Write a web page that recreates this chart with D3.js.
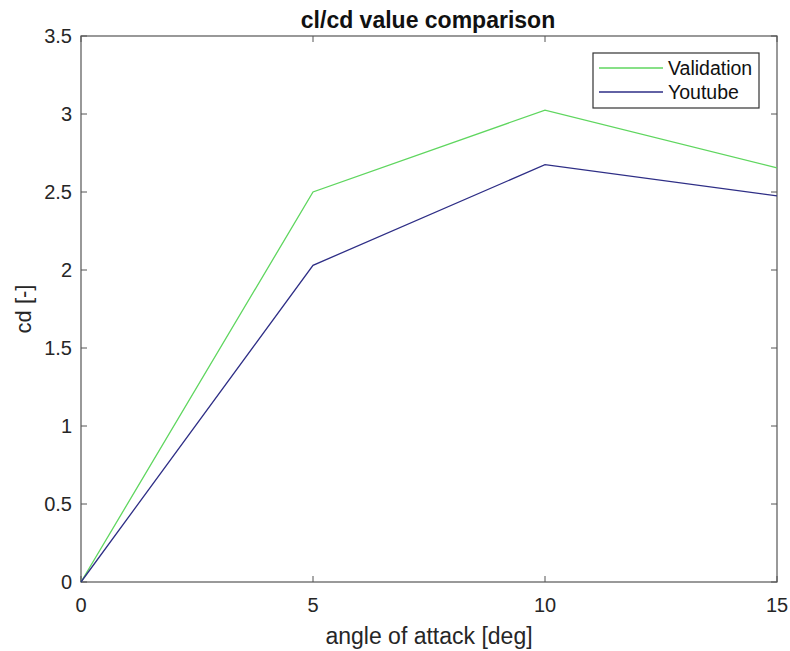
<!DOCTYPE html>
<html>
<head>
<meta charset="utf-8">
<script src="https://cdn.jsdelivr.net/npm/d3@7"></script>
<style>
  body { margin: 0; background: #fff; }
  text { font-family: "Liberation Sans", Arial, sans-serif; }
</style>
</head>
<body>
<svg id="chart" width="790" height="651"></svg>
<script>
// Angle of attack (deg) and lift/drag ratio per source
const angles = [0, 5, 10, 15];
const validation = [0, 2.50, 3.025, 2.655];
const youtube = [0, 2.03, 2.675, 2.475];
const xTicks = [0, 5, 10, 15];
const yTicks = [0, 0.5, 1, 1.5, 2, 2.5, 3, 3.5];
const seriesNames = ["Validation", "Youtube"];
const seriesColors = ["#5fd65f", "#2e2e86"];

const svg = d3.select("#chart");
const m = { left: 81, right: 777, top: 36, bottom: 582 };

const x = d3.scaleLinear().domain([0, 15]).range([m.left, m.right]);
const y = d3.scaleLinear().domain([0, 3.5]).range([m.bottom, m.top]);

const axisColor = "#555";
const tickLen = 6;

// Box outline
svg.append("rect")
  .attr("x", m.left).attr("y", m.top)
  .attr("width", m.right - m.left).attr("height", m.bottom - m.top)
  .attr("fill", "none").attr("stroke", axisColor).attr("stroke-width", 1.2);

// Inward ticks on all four sides
const tg = svg.append("g").attr("stroke", axisColor).attr("stroke-width", 1);
xTicks.forEach(t => {
  tg.append("line").attr("x1", x(t)).attr("x2", x(t)).attr("y1", m.bottom).attr("y2", m.bottom - tickLen);
  tg.append("line").attr("x1", x(t)).attr("x2", x(t)).attr("y1", m.top).attr("y2", m.top + tickLen);
});
yTicks.forEach(t => {
  tg.append("line").attr("x1", m.left).attr("x2", m.left + tickLen).attr("y1", y(t)).attr("y2", y(t));
  tg.append("line").attr("x1", m.right).attr("x2", m.right - tickLen).attr("y1", y(t)).attr("y2", y(t));
});

// Tick labels
svg.append("g").selectAll("text").data(xTicks).join("text")
  .attr("x", d => x(d)).attr("y", m.bottom + 30)
  .attr("text-anchor", "middle").attr("font-size", 20).attr("fill", "#262626")
  .text(d => d);
svg.append("g").selectAll("text").data(yTicks).join("text")
  .attr("x", m.left - 9).attr("y", d => y(d) + 7)
  .attr("text-anchor", "end").attr("font-size", 20).attr("fill", "#262626")
  .text(d => d);

// Series lines
const line = d3.line().x((d, i) => x(angles[i])).y(d => y(d));
[validation, youtube].forEach((vals, i) => {
  svg.append("path").datum(vals)
    .attr("d", line).attr("fill", "none")
    .attr("stroke", seriesColors[i]).attr("stroke-width", 1.3);
});

// Title and axis labels
svg.append("text").attr("x", 428).attr("y", 28)
  .attr("text-anchor", "middle").attr("font-size", 23).attr("font-weight", "bold")
  .attr("fill", "#111").text("cl/cd value comparison");
svg.append("text").attr("x", (m.left + m.right) / 2).attr("y", 644)
  .attr("text-anchor", "middle").attr("font-size", 23).attr("fill", "#262626")
  .text("angle of attack [deg]");
svg.append("text")
  .attr("transform", `translate(31,${(m.top + m.bottom) / 2}) rotate(-90)`)
  .attr("text-anchor", "middle").attr("font-size", 22).attr("fill", "#262626")
  .text("cd [-]");

// Legend
const lg = svg.append("g");
lg.append("rect").attr("x", 593).attr("y", 53).attr("width", 166).attr("height", 55)
  .attr("fill", "#fff").attr("stroke", "#333").attr("stroke-width", 1.2);
seriesNames.forEach((name, i) => {
  const ly = 68 + i * 24;
  lg.append("line").attr("x1", 599).attr("x2", 663).attr("y1", ly).attr("y2", ly)
    .attr("stroke", seriesColors[i]).attr("stroke-width", 1.3);
  lg.append("text").attr("x", 668).attr("y", ly + 7)
    .attr("font-size", 19.5).attr("fill", "#111").text(name);
});
</script>
</body>
</html>
